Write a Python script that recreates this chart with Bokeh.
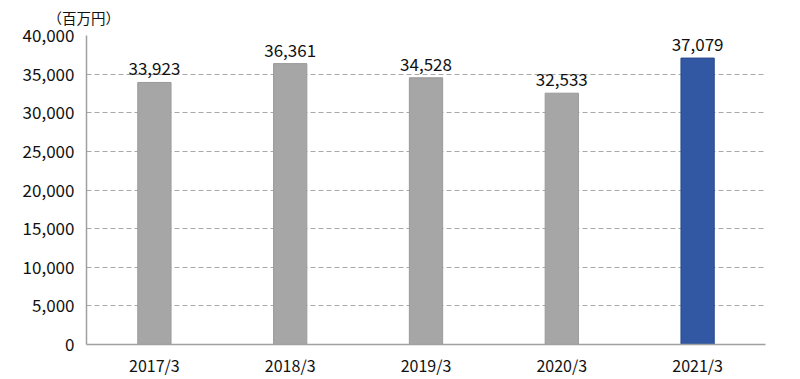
from bokeh.plotting import figure
from bokeh.models import ColumnDataSource, FactorRange, NumeralTickFormatter, FixedTicker, Range1d
from bokeh.core.properties import value
from bokeh.embed import file_html
from bokeh.resources import INLINE

categories = ["2017/3", "2018/3", "2019/3", "2020/3", "2021/3"]
sales = [33923, 36361, 34528, 32533, 37079]
fill_colors = ["#a6a6a6", "#a6a6a6", "#a6a6a6", "#a6a6a6", "#3257a3"]
line_colors = ["#9a9a9a", "#9a9a9a", "#9a9a9a", "#9a9a9a", "#2a4a8c"]
labels = ["33,923", "36,361", "34,528", "32,533", "37,079"]
y_ticks = [0, 5000, 10000, 15000, 20000, 25000, 30000, 35000, 40000]
unit_label = "（百万円）"

FONT = "Noto Sans CJK JP"

src = ColumnDataSource(dict(x=categories, y=sales, fill=fill_colors, line=line_colors, lab=labels))

p = figure(x_range=FactorRange(*categories, range_padding=0), y_range=Range1d(0, 40000),
           width=800, height=379, output_backend="svg", toolbar_location=None,
           min_border_left=86, min_border_right=35, min_border_top=35, min_border_bottom=34)
p.outline_line_color = None
p.background_fill_color = "white"

p.vbar(x="x", top="y", width=0.245, source=src, fill_color="fill", line_color="line", line_width=1)
p.text(x="x", y="y", text="lab", source=src, text_align="center", text_baseline="bottom",
       y_offset=-7, text_font=value(FONT), text_font_size="17px", text_color="#111111")

p.xgrid.grid_line_color = None
p.ygrid.grid_line_color = "#a8a8a8"
p.ygrid.grid_line_dash = "5 3"
p.ygrid.grid_line_width = 1
p.yaxis.ticker = FixedTicker(ticks=y_ticks)
p.yaxis.formatter = NumeralTickFormatter(format="0,0")

for ax in (p.xaxis[0], p.yaxis[0]):
    ax.axis_line_color = "#a0a0a0"
    ax.axis_line_width = 1.5
    ax.major_tick_line_color = None
    ax.minor_tick_line_color = None
    ax.major_label_text_font = FONT
    ax.major_label_text_font_size = "17px"
    ax.major_label_text_color = "#111111"
p.yaxis.major_label_standoff = 6
p.xaxis.major_label_standoff = 2
p.xaxis.major_label_text_font_size = "16px"

p.title.text = unit_label
p.title.align = "left"
p.title.offset = -39
p.title.standoff = 11
p.title.vertical_align = "top"
p.title.text_font = FONT
p.title.text_font_size = "14.5px"
p.title.text_font_style = "normal"
p.title.text_color = "#111111"

open("out.html", "w").write(file_html(p, INLINE))
